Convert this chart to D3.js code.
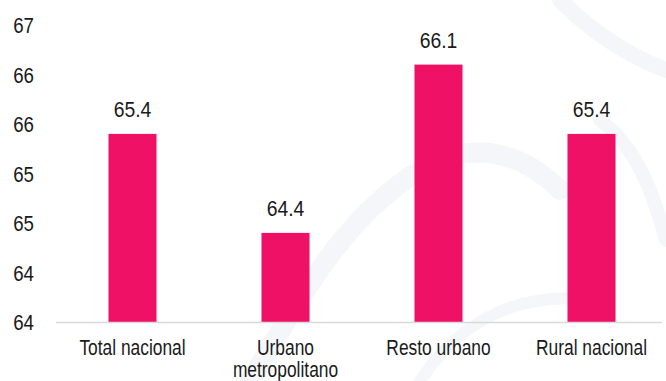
<!DOCTYPE html>
<html>
<head>
<meta charset="utf-8">
<script src="https://cdn.jsdelivr.net/npm/d3@7"></script>
<style>
  html, body { margin: 0; padding: 0; background: #ffffff; }
  svg { display: block; }
  text { font-family: "Liberation Sans", Arial, sans-serif; fill: #1a1a1a; }
</style>
</head>
<body>
<svg id="chart" width="666" height="381"></svg>
<script>
// Population share by area type
const categories = ["Total nacional", "Urbano metropolitano", "Resto urbano", "Rural nacional"];
const categoryLines = [["Total nacional"], ["Urbano", "metropolitano"], ["Resto urbano"], ["Rural nacional"]];
const values = [65.4, 64.4, 66.1, 65.4];
const valueLabels = ["65.4", "64.4", "66.1", "65.4"];
const yTicks = [63.5, 64.0, 64.5, 65.0, 65.5, 66.0, 66.5];

const W = 666, H = 381;
const FS = 22;
const svg = d3.select("#chart");

// faint watermark curves in the background
const wm = svg.append("g").attr("fill", "none").attr("stroke", "#f4f6f9").attr("stroke-linecap", "round");
wm.append("path").attr("stroke-width", 20)
  .attr("d", "M250,381 C300,300 340,220 420,170 C470,140 520,150 560,190");
wm.append("path").attr("stroke-width", 16)
  .attr("d", "M560,0 C600,40 640,60 666,70");
wm.append("path").attr("stroke-width", 14)
  .attr("d", "M600,120 C640,150 655,200 666,240");
wm.append("path").attr("stroke-width", 12)
  .attr("d", "M420,381 C460,320 520,290 600,300");

const x = d3.scaleBand()
  .domain(categories)
  .range([56, 668])
  .paddingInner(0.686)
  .paddingOuter(0.343);

const y = d3.scaleLinear()
  .domain([63.5, 66.5])
  .range([322, 25]);

// y-axis labels (rounded to whole numbers)
const yAxis = d3.axisLeft(y)
  .tickValues(yTicks)
  .tickSize(0)
  .tickPadding(0)
  .tickFormat(d => String(Math.floor(d + 0.5)));

const gy = svg.append("g").attr("transform", "translate(34,0)").call(yAxis);
gy.select(".domain").remove();
gy.selectAll("text")
  .attr("x", 0)
  .attr("font-size", FS)
  .attr("font-family", null)
  .attr("dy", "0.36em")
  .attr("transform", "scale(0.85,1)")
  .style("fill", "#1a1a1a");

// bars
svg.append("g").selectAll("rect")
  .data(values)
  .join("rect")
  .attr("x", (d, i) => x(categories[i]))
  .attr("width", x.bandwidth())
  .attr("y", d => y(d))
  .attr("height", d => y(63.5) - y(d))
  .attr("fill", "#ef1166");

// value labels
svg.append("g").selectAll("text")
  .data(values)
  .join("text")
  .attr("transform", (d, i) => `translate(${x(categories[i]) + x.bandwidth() / 2},${y(d) - 17}) scale(0.88,1)`)
  .attr("text-anchor", "middle")
  .attr("font-size", FS)
  .text((d, i) => valueLabels[i]);

// baseline
svg.append("line")
  .attr("x1", 56).attr("x2", 662)
  .attr("y1", y(63.5) + 0.5).attr("y2", y(63.5) + 0.5)
  .attr("stroke", "#d9d9d9")
  .attr("stroke-width", 1.5);

// category labels
const cat = svg.append("g").selectAll("text")
  .data(categories)
  .join("text")
  .attr("transform", d => `translate(${x(d) + x.bandwidth() / 2},355) scale(0.79,1)`)
  .attr("text-anchor", "middle")
  .attr("font-size", FS);
cat.each(function(d, i) {
  const t = d3.select(this);
  categoryLines[i].forEach((line, j) => {
    t.append("tspan")
      .attr("x", 0)
      .attr("dy", j === 0 ? 0 : 22)
      .text(line);
  });
});
</script>
</body>
</html>
